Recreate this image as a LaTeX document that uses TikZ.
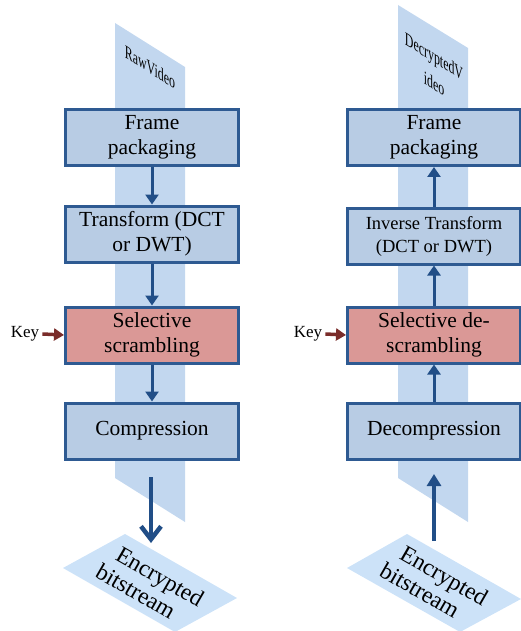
\documentclass[tikz,border=0pt]{standalone}
\usepackage{fontspec}
\setmainfont{Liberation Serif}
\newfontfamily\timesface{Liberation Serif}
\usetikzlibrary{arrows.meta,calc}

\definecolor{bandblue}{HTML}{C2D7EF}
\definecolor{boxfill}{HTML}{B8CCE4}
\definecolor{boxline}{HTML}{2E5A92}
\definecolor{redfill}{HTML}{DA9896}
\definecolor{flowblue}{HTML}{214E87}
\definecolor{keyred}{HTML}{7A2C2A}
\definecolor{streamfill}{HTML}{CCE2F8}

\tikzset{
  stage/.style={draw=boxline, line width=3pt, fill=boxfill, minimum width=173pt,
    minimum height=56pt, align=center, font=\timesface\fontsize{21.5}{25}\selectfont, inner sep=2pt},
  keystage/.style={stage, fill=redfill},
  band/.style={fill=bandblue, draw=none},
  stream/.style={fill=streamfill, draw=none},
  flow/.style={draw=flowblue, line width=3pt, -{Triangle[width=13pt,length=10pt]}},
  bigflow/.style={draw=flowblue, line width=4.5pt, -{Straight Barb[width=20pt,length=13pt]}},
  upflow/.style={draw=flowblue, line width=3.5pt, -{Triangle[width=14pt,length=12pt]}},
  keyflow/.style={draw=keyred, line width=3.5pt, -{Triangle[width=12pt,length=10pt]}},
  keylabel/.style={font=\timesface\fontsize{17}{18}\selectfont, inner sep=0pt},
  % lettering lying along the bitstream sheet
  streamlabel/.style={font=\timesface\fontsize{23.5}{25}\selectfont, align=left,
    rotate=-30, inner sep=0pt},
  tagtext/.style={font=\timesface\fontsize{17}{25}\selectfont, align=center,
    yslant=-0.63, xscale=0.7, yscale=1.1, inner sep=0pt}
}

\begin{document}
\begin{tikzpicture}[x=1pt, y=-1pt]
\useasboundingbox (0,0) rectangle (521,631);

% translucent bands behind each pipeline
\fill[band] (115,23) -- (185,67) -- (185,522) -- (115,478) -- cycle;
\fill[band] (398,5) -- (468,48) -- (468,522) -- (398,478) -- cycle;

% bitstream sheets
\fill[stream] (63,568) -- (125,534) -- (237,598) -- (175,632) -- cycle;
\fill[stream] (347,568) -- (407,534) -- (521,599) -- (460,632) -- cycle;

% band labels
\node[tagtext] (raw) at (150,67) {RawVideo};
\node[tagtext] (dec) at (434,70) {DecryptedV\\ideo};

% encryption pipeline
\node[stage] (fp1) at (152,137.5) {Frame\\packaging};
\node[stage] (tr1) at (152,234) {Transform (DCT\\or DWT)};
\node[keystage] (sc1) at (152,335) {Selective\\scrambling};
\node[stage] (co1) at (152,431) {Compression};
\node[streamlabel] (bs1) at (150,585) {\hspace*{9pt}Encrypted\\bitstream};
\node[keylabel] (key1) at (25,334) {Key};

\draw[flow] (fp1) -- (tr1);
\draw[flow] (tr1) -- (sc1);
\draw[flow] (sc1) -- (co1);
\coordinate (out1) at (151,477);
\coordinate (in1) at (151,543);
\draw[bigflow] (out1) -- (in1);
\draw[keyflow] (key1.east) ++(3,0) coordinate (k1) (k1) -- (sc1.west);

% decryption pipeline
\node[stage] (fp2) at (434,137.5) {Frame\\packaging};
\node[stage, font=\timesface\fontsize{18.5}{23}\selectfont] (it2) at (434,236) {Inverse Transform\\(DCT or DWT)};
\node[keystage] (ds2) at (434,335) {Selective de-\\scrambling};
\node[stage] (dc2) at (434,431) {Decompression};
\node[streamlabel] (bs2) at (434,584) {\hspace*{9pt}Encrypted\\bitstream};
\node[keylabel] (key2) at (308,334) {Key};

\draw[flow] (it2) -- (fp2);
\draw[flow] (ds2) -- (it2);
\draw[flow] (dc2) -- (ds2);
\coordinate (src2) at (434,541);
\coordinate (dst2) at (434,474);
\draw[upflow] (src2) -- (dst2);
\draw[keyflow] (key2.east) ++(3,0) coordinate (k2) (k2) -- (ds2.west);
\end{tikzpicture}
\end{document}
